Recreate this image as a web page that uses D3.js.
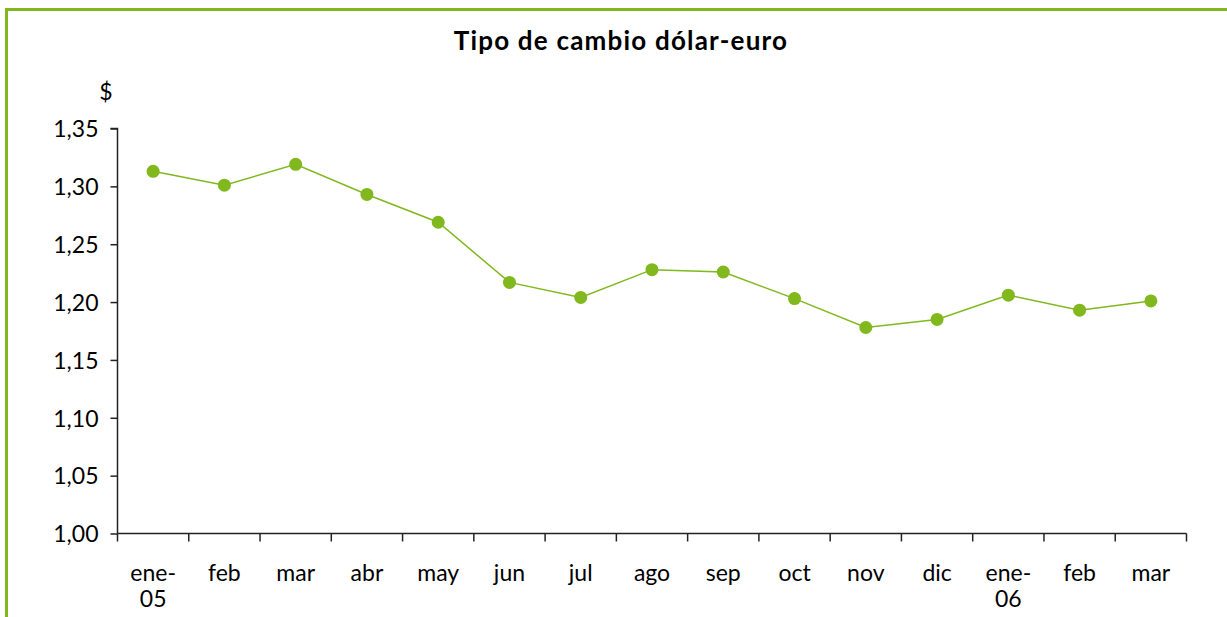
<!DOCTYPE html>
<html>
  <head>
    <meta charset="utf-8">
    <style>
        body { margin: 0; background: #fff; }
        text { font-family: Lato, "Open Sans", sans-serif; fill: #000; }
    </style>
    <script src="https://d3js.org/d3.v7.min.js"></script>
  </head>
  <body>
    <svg></svg>
    <script>
    // monthly values
    var months = ["ene-05", "feb", "mar", "abr", "may", "jun", "jul", "ago",
                  "sep", "oct", "nov", "dic", "ene-06", "feb2", "mar2"];
    var labels = [["ene-", "05"], ["feb"], ["mar"], ["abr"], ["may"], ["jun"], ["jul"], ["ago"],
                  ["sep"], ["oct"], ["nov"], ["dic"], ["ene-", "06"], ["feb"], ["mar"]];
    var rates = [1.313, 1.301, 1.319, 1.293, 1.269, 1.217, 1.204, 1.228,
                 1.226, 1.203, 1.178, 1.185, 1.206, 1.193, 1.201];
    var yTicks = [1.00, 1.05, 1.10, 1.15, 1.20, 1.25, 1.30, 1.35];

    var green = "#80b81d";

    var svg = d3.select("svg")
        .attr("width", 1227)
        .attr("height", 617);

    // frame, cut off at right and bottom
    svg.append("rect")
        .attr("x", 6.5)
        .attr("y", 9.5)
        .attr("width", 1240)
        .attr("height", 640)
        .attr("fill", "none")
        .attr("stroke", green)
        .attr("stroke-width", 3);

    var x = d3.scaleBand()
        .domain(months)
        .range([117.5, 1186.5]);

    var y = d3.scaleLinear()
        .domain([1.00, 1.35])
        .range([533.5, 128.5]);

    svg.append("text")
        .attr("x", 621)
        .attr("y", 50)
        .attr("text-anchor", "middle")
        .attr("font-weight", "bold")
        .attr("font-size", "26px")
        .attr("letter-spacing", "1.2px")
        .text("Tipo de cambio dólar-euro");

    svg.append("text")
        .attr("x", 106)
        .attr("y", 100)
        .attr("text-anchor", "middle")
        .attr("font-size", "23px")
        .text("$");

    // y axis
    var yAxis = svg.append("g")
        .attr("transform", "translate(117.5,0)")
        .call(d3.axisLeft(y)
            .tickValues(yTicks)
            .tickSize(7)
            .tickPadding(12)
            .tickFormat(function(d) { return d3.format(".2f")(d).replace(".", ","); }))
        .call(function(g) { g.select(".domain").attr("d", "M-7,128.5H0V533.5"); });
    yAxis.selectAll("path, line").attr("stroke", "#222").attr("stroke-width", 1.5);
    yAxis.selectAll("text")
        .attr("font-size", "23px")
        .attr("font-family", "Lato, sans-serif")
        .attr("dy", "0.36em");

    // x axis, ticks on band edges
    var edges = months.map(function(m) { return x(m); }).concat([x.range()[1]]);
    var xAxis = svg.append("g")
        .attr("transform", "translate(0,533.5)");
    xAxis.append("line")
        .attr("x1", x.range()[0])
        .attr("x2", x.range()[1])
        .attr("stroke", "#222")
        .attr("stroke-width", 1.5);
    xAxis.selectAll(".tk")
        .data(edges)
        .enter().append("line")
        .attr("class", "tk")
        .attr("x1", function(d) { return d; })
        .attr("x2", function(d) { return d; })
        .attr("y1", 0)
        .attr("y2", 8)
        .attr("stroke", "#222")
        .attr("stroke-width", 1.5);

    var lbl = xAxis.selectAll(".lbl")
        .data(months)
        .enter().append("text")
        .attr("class", "lbl")
        .attr("text-anchor", "middle")
        .attr("font-size", "23px")
        .attr("transform", function(d) {
            return "translate(" + (x(d) + x.bandwidth() / 2) + ",0)"; });
    lbl.selectAll("tspan")
        .data(function(d, i) { return labels[i]; })
        .enter().append("tspan")
        .attr("x", 0)
        .attr("y", function(d, i) { return 47 + i * 26; })
        .text(function(d) { return d; });

    // series
    var line = d3.line()
        .x(function(d, i) { return x(months[i]) + x.bandwidth() / 2; })
        .y(function(d) { return y(d); });

    svg.append("path")
        .datum(rates)
        .attr("fill", "none")
        .attr("stroke", green)
        .attr("stroke-width", 1.5)
        .attr("d", line);

    svg.selectAll(".dot")
        .data(rates)
        .enter().append("circle")
        .attr("class", "dot")
        .attr("cx", function(d, i) { return x(months[i]) + x.bandwidth() / 2; })
        .attr("cy", function(d) { return y(d); })
        .attr("r", 6.5)
        .attr("fill", green);
    </script>
  </body>
</html>
